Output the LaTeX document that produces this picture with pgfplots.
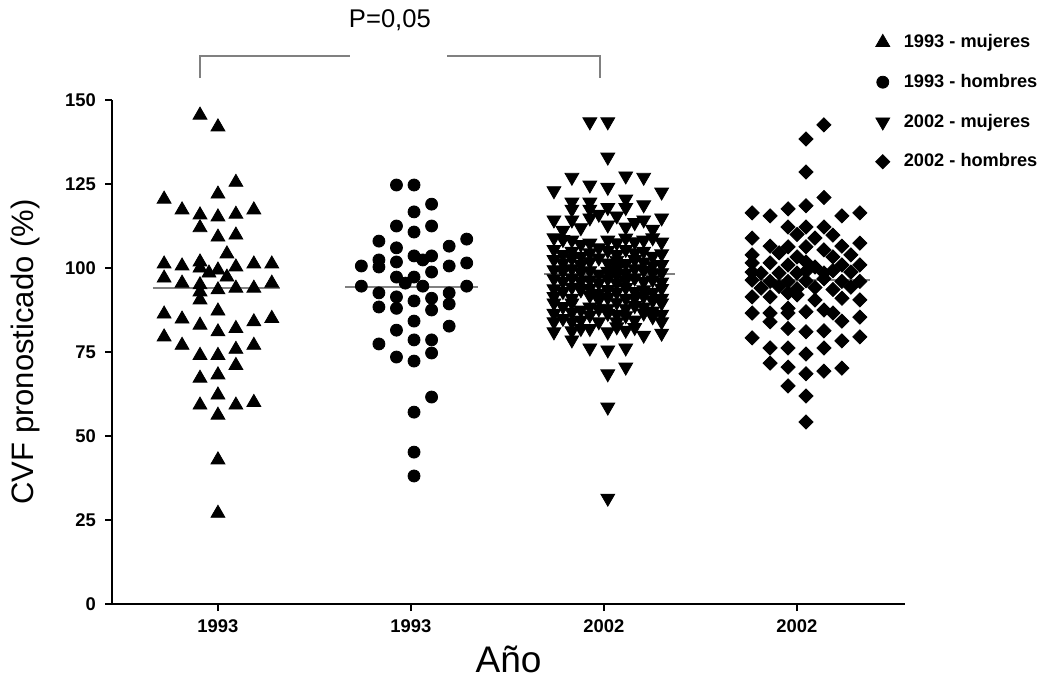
\documentclass[border=0pt]{standalone}
\usepackage{fontspec}
\setmainfont{Liberation Sans}
\usepackage{pgfplots}
\usepackage{pgfplotstable}
\pgfplotsset{compat=1.18}
\definecolor{medgray}{HTML}{808080}

% columns: k = jitter column (about 18 px), y = value
\pgfplotstableread{
k y
-1 145.5
0 142
1 125.5
0 122
-3 120.5
-2 117.3
-1 115.8
0 115.2
1 116
2 117.3
-1 112
0 109.2
1 109.8
0.5 104.2
-3 101.2
-2 100.6
-1 101.8
-1 100
-0.5 98.5
0 99.4
0.5 97.3
1 100.3
2 101.2
3 101.2
-3 97
-2 95.5
-1 95
-1 92.9
0 93.5
1 94
2 94
3 95.5
-1 90.5
-3 86.3
-2 84.8
0 87.2
-1 83
0 81
1 82
2 84
3 85
-3 79.5
-2 77
-1 74
0 74
1 75.8
2 77
1 71
-1 67.2
0 68.2
0 62.2
-1 59.2
1 59.2
2 60
0 56.2
0 42.9
0 27
}\mujA

\pgfplotstableread{
k y
-1 124.7
0 124.7
1 119
0 116.7
-1 112.5
0 110.7
1 112.5
-2 108
3 108.6
-1 106
2 106.5
0 103.6
0.5 102.4
1 103.6
-3 100.6
-2 102.4
-2 100.3
-1 101.8
2 100.6
3 101.5
1 98.8
-1 97.3
0 97.3
-0.5 95.5
-3 94.6
0.5 94.6
3 94.6
-2 92.6
-1 91.4
0 90.2
1 91
2 92.6
-2 88.4
-1 88
1 87.5
2 89.3
0 84.2
-1 81.5
2 82.7
-2 77.4
0 78.6
1 78.6
-1 73.5
0 72.3
1 74.7
1 61.6
0 57.1
0 45.2
0 38.1
}\homA

\pgfplotstableread{
k y
-1 143.5
0 143.5
0 133
-2 127
1 127.4
2 127
-1 124.7
0 124
-3 123
3 122.6
1 120.5
-2 119.6
-1 119.6
0 118
1 118
2 118.8
-2 117.5
-1 117.5
-0.5 116
0.5 115.5
-3 114.3
-2 114.3
-1 114.9
0 112.8
1 112.2
2 114.3
3 114.9
1.5 113.5
-1.5 112
-2.5 111.2
2.5 111.5
-3 109
-2 108.3
-1 107.4
0 108.3
1 108.9
2 108.3
3 107.7
-2.5 108.5
-1.5 107
0.5 107.5
1.5 107.8
2.5 109
-3 105.5
-2 105
-1 104.5
-0.5 106
0 105.2
0.5 104
1 105.5
1.5 104.5
2 105
3 104.2
-2.5 104
-1.5 103.5
2.5 103.5
-3 102.5
-2.5 101.5
-2 102.8
-1 102
-0.5 103
0 101.5
0.5 102.3
1 101.3
1.5 102.5
2 101.8
2.5 100.8
3 101
-1.5 101
0.5 100.5
-3 99.5
-2 99.8
-1.5 98.8
-1 99.2
0 99
0.5 99.6
1 98.5
2 99.3
3 98.6
-2.5 99
1.5 99.8
2.5 98.5
-0.5 98.2
-3 96.8
-2.5 96
-2 97
-1 96.5
-0.5 95.6
0 96.8
0.5 95.5
1 96.3
1.5 97
2 96
2.5 96.5
3 95.8
-1.5 96
0.5 97.8
-3 93.8
-2 94.3
-1.5 93.5
-1 94
0 93.6
0.5 92.8
1 94.2
1.5 93
2 93.5
3 93.9
-2.5 93
-0.5 92.5
2.5 92.8
-3 91.5
-2 91
-1 91.8
-0.5 90.5
0 91.2
1 91
2 91.6
2.5 90.3
3 91
1.5 91
-3 89.6
-2 89.6
-1 88.4
0 88
1 88
2 88.4
3 89.6
-2.5 88.5
-1.5 87.5
0.5 89.8
1.5 88.8
-0.5 87.8
2.5 87.2
-3 86.5
-2 86.8
-1 86
0 86.5
1 85.8
2 86.6
3 86.2
-2.5 85
0.5 86.2
2.5 85.5
-3 84
-2 84
-1.5 84.5
-0.5 84
0.5 84
1.5 84.5
3 84
-1.5 82
0.5 82.5
1.5 82.3
-2 81.3
-3 81
-1 82
0 81
1 81.5
2 80
3 80.6
-2 78.6
-1 76.2
0 75.6
1 76.2
1 70.5
0 68.5
0 58.6
0 31.5
}\mujB

\pgfplotstableread{
k y
1 142.6
0 138.4
0 128.6
1 121
-3 116.4
-2 115.5
-1 117.6
0 118.5
2 115.5
3 116.4
-1 112.2
0 112.2
-0.5 110
1 112.2
1.5 109.8
-3 108.9
-2 106.5
-1 106.3
0.5 108.9
2 106.5
3 107.4
-3 103.9
-1.5 104.5
-0.5 103.3
0 106.3
1 105.4
1.5 103.3
2.5 103.9
-3 101.5
-2 101.5
-1 100.9
0 101.8
0.5 100.3
2 100.9
3 100.9
-3 98.8
-2.5 98.5
-1.5 98.5
-0.5 98.5
0 99
1 98.5
1.5 99.2
2.5 98.8
-3 96.4
-2 96
-1 96
0 96.2
1 96.8
2 96
3 96
-2.5 94
-1.5 94.5
-0.5 93.8
0.5 94.2
1.5 93.6
2.5 94.3
-3 91.4
-2 91.4
-1 92.6
-0.5 92
0.5 90.5
2 91
3 90.5
-3 86.6
-2 86.6
-1 88
-1 86.6
0 87
1 87.5
1.5 86.6
3 85.4
-2 84
2 84.2
-1 82
0 81
1 81.3
3 79.5
-3 79.2
2 78.3
-2 76.2
-1 76.2
0 74.4
1 76.2
-2 71.7
-1 70.5
0 68.5
1 69.3
2 70.2
-1 64.9
0 61.9
0 54.2
}\homB

\begin{document}
\begin{tikzpicture}
% 1 px of the reference = 0.5pt
\path[use as bounding box] (-56pt,-38.5pt) rectangle (468.5pt,302pt);
\begin{axis}[
    scale only axis,
    width=396.5pt, height=252pt,
    at={(0,0)}, anchor=south west,
    axis lines=left,
    axis line style={-, line width=1.4pt},
    xmin=0.451, xmax=4.56,
    ymin=0, ymax=150,
    xtick={1,2,3,4},
    xticklabels={1993,1993,2002,2002},
    ytick={0,25,50,75,100,125,150},
    tick style={line width=1.4pt, black},
    tick align=outside,
    major tick length=3.5pt,
    /pgf/number format/assume math mode=true,
    tick label style={font=\bfseries\fontsize{9.2}{10}\selectfont},
    yticklabel style={xshift=-1pt},
    xticklabel style={yshift=-1pt},
    ylabel={CVF pronosticado (\%)},
    ylabel style={font=\fontsize{15.5}{17}\selectfont, at={(axis description cs:-0.109,0.5)}, anchor=center},
    xlabel={Año},
    xlabel style={font=\fontsize{18.5}{20}\selectfont, at={(axis description cs:0.5,-0.07)}, anchor=north},
    clip=false,
    legend cell align=left,
    legend style={draw=none, fill=none, at={(axis description cs:0.955,1.147)}, anchor=north west,
        font=\bfseries\fontsize{9.1}{11}\selectfont, row sep=7.8pt,
        /tikz/every odd column/.append style={column sep=5pt}},
]
\addplot[only marks, mark=triangle*, mark size=4pt, black]
    table[x expr=1+0.093*\thisrow{k}, y=y] {\mujA};
\addlegendentry{1993 - mujeres}
\addplot[only marks, mark=*, mark size=3pt, black]
    table[x expr=2.016+0.091*\thisrow{k}, y=y] {\homA};
\addlegendentry{1993 - hombres}
\addplot[only marks, mark=triangle*, mark size=4pt, mark options={rotate=180}, black]
    table[x expr=3.02+0.093*\thisrow{k}, y=y] {\mujB};
\addlegendentry{2002 - mujeres}
\addplot[only marks, mark=square*, mark size=2.5pt, mark options={rotate=45}, black]
    table[x expr=4.047+0.093*\thisrow{k}, y=y] {\homB};
\addlegendentry{2002 - hombres}

% medians
\addplot[forget plot, medgray, line width=1.2pt] coordinates {(0.663,94) (1.32,94)};
\addplot[forget plot, medgray, line width=1.2pt] coordinates {(1.66,94.4) (2.35,94.4)};
\addplot[forget plot, medgray, line width=1.2pt] coordinates {(2.69,98.2) (3.37,98.2)};
\addplot[forget plot, medgray, line width=1.2pt] coordinates {(3.73,96.4) (4.38,96.4)};

% significance bracket
\draw[medgray, line width=1pt] (axis cs:0.907,156.5) -- (axis cs:0.907,163.1) -- (axis cs:1.684,163.1);
\draw[medgray, line width=1pt] (axis cs:2.187,163.1) -- (axis cs:2.979,163.1) -- (axis cs:2.979,156.5);
\node[font=\fontsize{12.8}{14}\selectfont] at (axis cs:1.891,173.8) {P=0,05};
\end{axis}
\end{tikzpicture}
\end{document}
